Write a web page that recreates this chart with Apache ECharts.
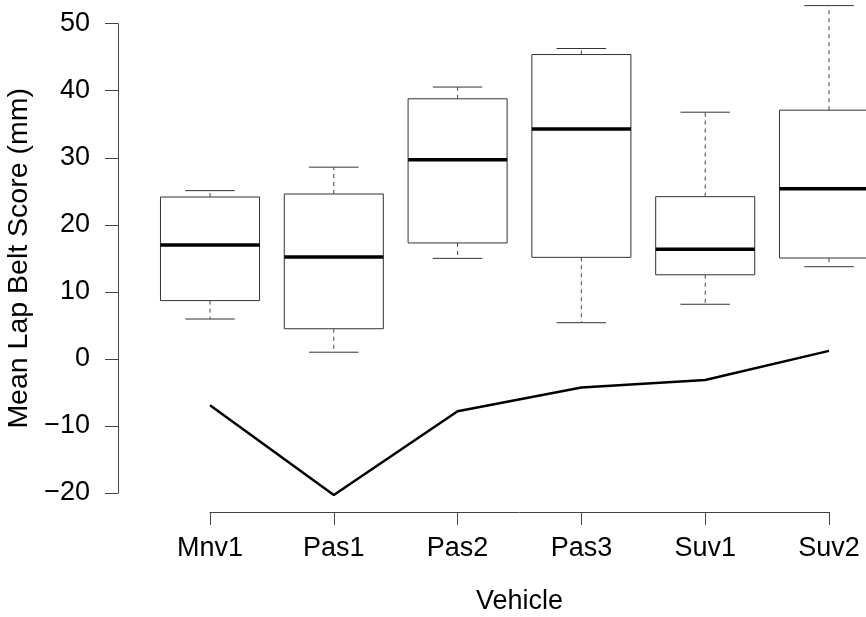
<!DOCTYPE html>
<html>
<head>
<meta charset="utf-8">
<script src="https://cdn.jsdelivr.net/npm/echarts@6/dist/echarts.min.js"></script>
<style>
  html, body { margin: 0; padding: 0; background: #fff; }
  #chart { width: 866px; height: 617px; }
</style>
</head>
<body>
<div id="chart"></div>
<script>
// ---- Data ----
const categories = ['Mnv1', 'Pas1', 'Pas2', 'Pas3', 'Suv1', 'Suv2'];
// five-number summaries: [min, q1, median, q3, max]
const boxMin    = [5.95, 1.0, 15.0, 5.4, 8.15, 13.75];
const boxQ1     = [8.7, 4.5, 17.3, 15.15, 12.55, 15.05];
const boxMedian = [17.0, 15.2, 29.7, 34.3, 16.35, 25.4];
const boxQ3     = [24.15, 24.6, 38.8, 45.4, 24.2, 37.1];
const boxMax    = [25.1, 28.6, 40.55, 46.3, 36.8, 52.7];
const lineValues = [-6.9, -20.3, -7.8, -4.25, -3.15, 1.2];
const yTicks = { min: -20, max: 50, interval: 10 };

const FONT = "'Liberation Sans', Arial, sans-serif";

const boxData = categories.map((c, i) => [i, boxMin[i], boxQ1[i], boxMedian[i], boxQ3[i], boxMax[i]]);

function renderBox(params, api) {
  const idx = api.value(0);
  const pt = v => api.coord([idx, v]);
  const bw = api.size([1, 0])[0] * 0.8;
  const cx = pt(api.value(3))[0];
  const yMin = pt(api.value(1))[1];
  const yQ1 = pt(api.value(2))[1];
  const yMed = pt(api.value(3))[1];
  const yQ3 = pt(api.value(4))[1];
  const yMax = pt(api.value(5))[1];
  const half = bw / 2;
  const staple = bw / 4;
  const whiskStyle = { stroke: '#444', lineWidth: 1, lineDash: [4, 4] };
  const capStyle = { stroke: '#333', lineWidth: 1 };
  return {
    type: 'group',
    children: [
      { type: 'line', shape: { x1: cx, y1: yQ3, x2: cx, y2: yMax }, style: whiskStyle },
      { type: 'line', shape: { x1: cx, y1: yQ1, x2: cx, y2: yMin }, style: whiskStyle },
      { type: 'line', shape: { x1: cx - staple, y1: yMax, x2: cx + staple, y2: yMax }, style: capStyle },
      { type: 'line', shape: { x1: cx - staple, y1: yMin, x2: cx + staple, y2: yMin }, style: capStyle },
      { type: 'rect', shape: { x: cx - half, y: yQ3, width: bw, height: yQ1 - yQ3 }, style: { stroke: '#333', lineWidth: 1, fill: '#fff' } },
      { type: 'line', shape: { x1: cx - half, y1: yMed, x2: cx + half, y2: yMed }, style: { stroke: '#000', lineWidth: 3.5 } }
    ]
  };
}

const chart = echarts.init(document.getElementById('chart'), null, { renderer: 'canvas' });
chart.setOption({
  animation: false,
  backgroundColor: '#fff',
  grid: { left: 210, right: 37, top: 23.7, bottom: 124, containLabel: false, outerBoundsMode: 'none' },
  xAxis: {
    type: 'category',
    data: categories,
    boundaryGap: false,
    offset: 19,
    axisLine: { show: true, onZero: false, lineStyle: { color: '#444', width: 1 } },
    axisTick: { show: true, length: 13, inside: false, alignWithLabel: true, lineStyle: { color: '#444' } },
    axisLabel: { color: '#000', fontSize: 27, fontFamily: FONT, margin: 23, interval: 0 },
    splitLine: { show: false },
    name: 'Vehicle',
    nameLocation: 'middle',
    nameGap: 76,
    nameTextStyle: { color: '#000', fontSize: 27, fontFamily: FONT }
  },
  yAxis: {
    type: 'value',
    min: yTicks.min,
    max: yTicks.max,
    interval: yTicks.interval,
    offset: 92,
    axisLine: { show: true, onZero: false, lineStyle: { color: '#444', width: 1 } },
    axisTick: { show: true, length: 13, inside: false, lineStyle: { color: '#444' } },
    axisLabel: {
      color: '#000', fontSize: 27, fontFamily: FONT, margin: 28,
      formatter: v => (v < 0 ? '\u2212' + Math.abs(v) : String(v))
    },
    splitLine: { show: false },
    name: 'Mean Lap Belt Score (mm)',
    nameLocation: 'middle',
    nameRotate: 90,
    nameGap: 76,
    nameTextStyle: { color: '#000', fontSize: 28.5, fontFamily: FONT }
  },
  series: [
    {
      type: 'line',
      data: lineValues,
      symbol: 'none',
      clip: false,
      lineStyle: { color: '#000', width: 2.5 },
      z: 2
    },
    {
      type: 'custom',
      data: boxData,
      renderItem: renderBox,
      encode: { x: 0, y: [1, 2, 3, 4, 5] },
      clip: false,
      z: 3
    }
  ]
});
</script>
</body>
</html>
